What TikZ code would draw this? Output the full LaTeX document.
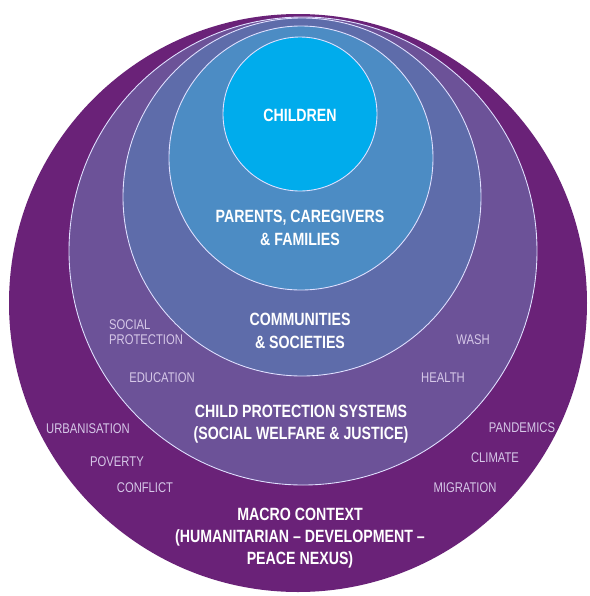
\documentclass[tikz,border=0pt]{standalone}
\usepackage{fontspec}
\setmainfont{Liberation Sans}
\newfontfamily\narrowfont{Liberation Sans}[FakeStretch=0.8]
\usepackage{xcolor}
\usepackage{tikz}
\usetikzlibrary{positioning}

\definecolor{macroring}{RGB}{106,34,120}
\definecolor{systemring}{RGB}{108,82,152}
\definecolor{communityring}{RGB}{94,108,170}
\definecolor{familyring}{RGB}{76,140,196}
\definecolor{childring}{RGB}{0,172,236}
\definecolor{factorgrey}{RGB}{214,200,232}

\begin{document}
\begin{tikzpicture}[x=0.02cm, y=-0.02cm,
  layer/.style={draw=white!88!blue, line width=0.5pt},
  heading/.style={font=\narrowfont\bfseries\fontsize{10.1}{12.7}\selectfont, text=white, align=center},
  factor/.style={font=\narrowfont\fontsize{8}{8.5}\selectfont, text=factorgrey, align=left}]

% canvas
\useasboundingbox[fill=white] (0,0) rectangle (590,596);

% nested rings, outermost first
\fill[macroring] (298,303) circle (289);
\draw[layer, fill=systemring] (303,251) circle (234);
\draw[layer, fill=communityring] (302,197) circle (179);
\draw[layer, fill=familyring] (301,158) circle (132);
\draw[layer, fill=childring] (300,114) circle (77);

% ring titles
\node[heading] (children) at (300,115) {CHILDREN};
\node[heading] (families) at (300,228) {PARENTS, CAREGIVERS\\\& FAMILIES};
\node[heading] (communities) at (300,331) {COMMUNITIES\\\& SOCIETIES};
\node[heading] (systems) at (301,424) {CHILD PROTECTION SYSTEMS\\(SOCIAL WELFARE \& JUSTICE)};
\node[heading] (macro) at (300,538) {MACRO CONTEXT\\(HUMANITARIAN – DEVELOPMENT –\\PEACE NEXUS)};

% sectors and context factors
\node[factor, anchor=west] (socialprot) at (103,332) {SOCIAL\\PROTECTION};
\foreach \x/\y/\t [count=\i] in {162/378/EDUCATION, 473/340/WASH, 443/378/HEALTH,
    88/429/URBANISATION, 117/462/POVERTY, 145/488/CONFLICT,
    522/428/PANDEMICS, 495/458/CLIMATE, 465/488/MIGRATION} {
    \node[factor] (factor\i) at (\x,\y) {\t};
}

\end{tikzpicture}
\end{document}
